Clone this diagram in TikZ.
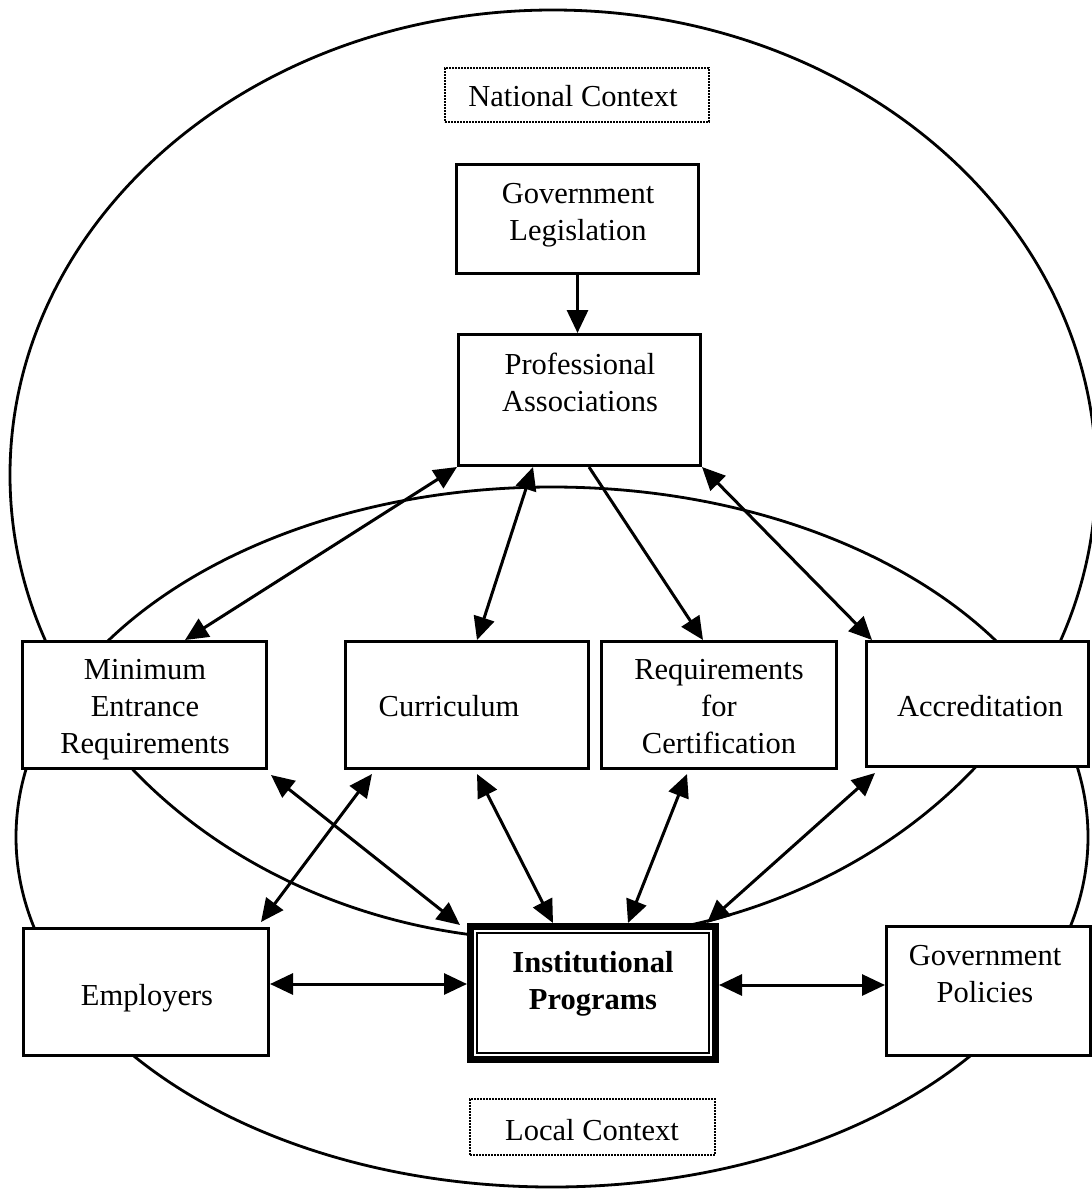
\documentclass[tikz,border=0pt]{standalone}
\usepackage{fontspec}
\setmainfont{Liberation Serif}
\usetikzlibrary{arrows.meta}
\begin{document}
\begin{tikzpicture}[x=1pt,y=-1pt,
  >={Triangle[length=23pt,width=21pt]},
  box/.style={draw, line width=3pt, fill=white, inner sep=0pt},
  ctx/.style={draw, densely dotted, line width=2pt, fill=white, inner sep=0pt},
  lbl/.style={font=\fontsize{30.5}{37}\selectfont, align=center, inner sep=0pt},
  blbl/.style={font=\fontsize{30.5}{37}\selectfont\bfseries, align=center, inner sep=0pt},
  oneway/.style={line width=3pt, ->},
  twoway/.style={line width=3pt, <->},
  ring/.style={line width=2.8pt}]
\useasboundingbox (0,0) rectangle (1092,1192);
\fill[white] (0,0) rectangle (1092,1192);
% context ellipses
\draw[ring] (553,475) ellipse [x radius=543pt, y radius=465pt];
\draw[ring] (552,837) ellipse [x radius=536pt, y radius=350pt];
% boxes
\node[ctx, minimum width=264pt, minimum height=54pt] (nat) at (577,95) {};
\node[box, minimum width=242pt, minimum height=109pt] (gl) at (577.5,219) {};
\node[box, minimum width=242pt, minimum height=131pt] (pa) at (579.5,400) {};
\node[box, minimum width=244pt, minimum height=127pt] (mer) at (144.5,705) {};
\node[box, minimum width=243pt, minimum height=127pt] (cur) at (467,705) {};
\node[box, minimum width=235pt, minimum height=127pt] (rfc) at (719,705) {};
\node[box, minimum width=222pt, minimum height=125pt] (acc) at (977.5,704) {};
\node[box, minimum width=245pt, minimum height=127pt] (emp) at (146,992) {};
\node[box, line width=7pt, minimum width=245pt, minimum height=133pt] (inst) at (593,993) {};
\draw[line width=2pt] ([shift={(10pt,-10pt)}]inst.north west) rectangle ([shift={(-10pt,10pt)}]inst.south east);
\node[box, minimum width=204pt, minimum height=129pt] (gp) at (988.5,991) {};
\node[ctx, minimum width=245pt, minimum height=56pt] (loc) at (592.5,1127) {};
% texts
\node[lbl] (natt) at (573,96) {National Context};
\node[lbl] (glt) at (578,215.5) {Government\\Legislation};
\node[lbl] (pat) at (580,382.5) {Professional\\Associations};
\node[lbl] (mert) at (145,709.5) {Minimum\\Entrance\\Requirements};
\node[lbl] (curt) at (449,706) {Curriculum};
\node[lbl] (rfct) at (719,707) {Requirements\\for\\Certification};
\node[lbl] (acct) at (980,706) {Accreditation};
\node[lbl] (empt) at (147,998) {Employers};
\node[blbl] (instt) at (593,983.5) {Institutional\\Programs};
\node[lbl] (gpt) at (985,974) {Government\\Policies};
\node[lbl] (loct) at (592,1130) {Local Context};
% connectors
\draw[oneway] (gl.south) -- (gl.south |- pa.north);
\draw[twoway] (pa.south west) -- ([xshift=40.5pt]mer.north);
\draw[twoway] ([xshift=-46.5pt]pa.south) -- ([xshift=10pt]cur.north);
\draw[oneway] ([xshift=9.5pt]pa.south) -- ([xshift=-16pt]rfc.north);
\draw[twoway] (pa.south east) -- ([xshift=-105.5pt]acc.north);
\draw[twoway] ([xshift=3pt,yshift=-5pt]mer.south east) -- ([xshift=-7pt,yshift=-2pt]inst.north west);
\draw[twoway] ([xshift=28pt,yshift=-4pt]cur.south west) -- ([xshift=-9pt,yshift=5pt]emp.north east);
\draw[twoway] ([xshift=10pt,yshift=-4pt]cur.south) -- ([xshift=-40pt]inst.north);
\draw[twoway] ([xshift=-32pt,yshift=-4pt]rfc.south) -- ([xshift=35pt]inst.north);
\draw[twoway] ([xshift=-102.5pt,yshift=-5pt]acc.south) -- ([xshift=114pt]inst.north);
\draw[twoway] ([yshift=8pt]emp.east) -- ([yshift=9pt]inst.west);
\draw[twoway] ([yshift=8pt]inst.east) -- ([yshift=6pt]gp.west);
\end{tikzpicture}
\end{document}
